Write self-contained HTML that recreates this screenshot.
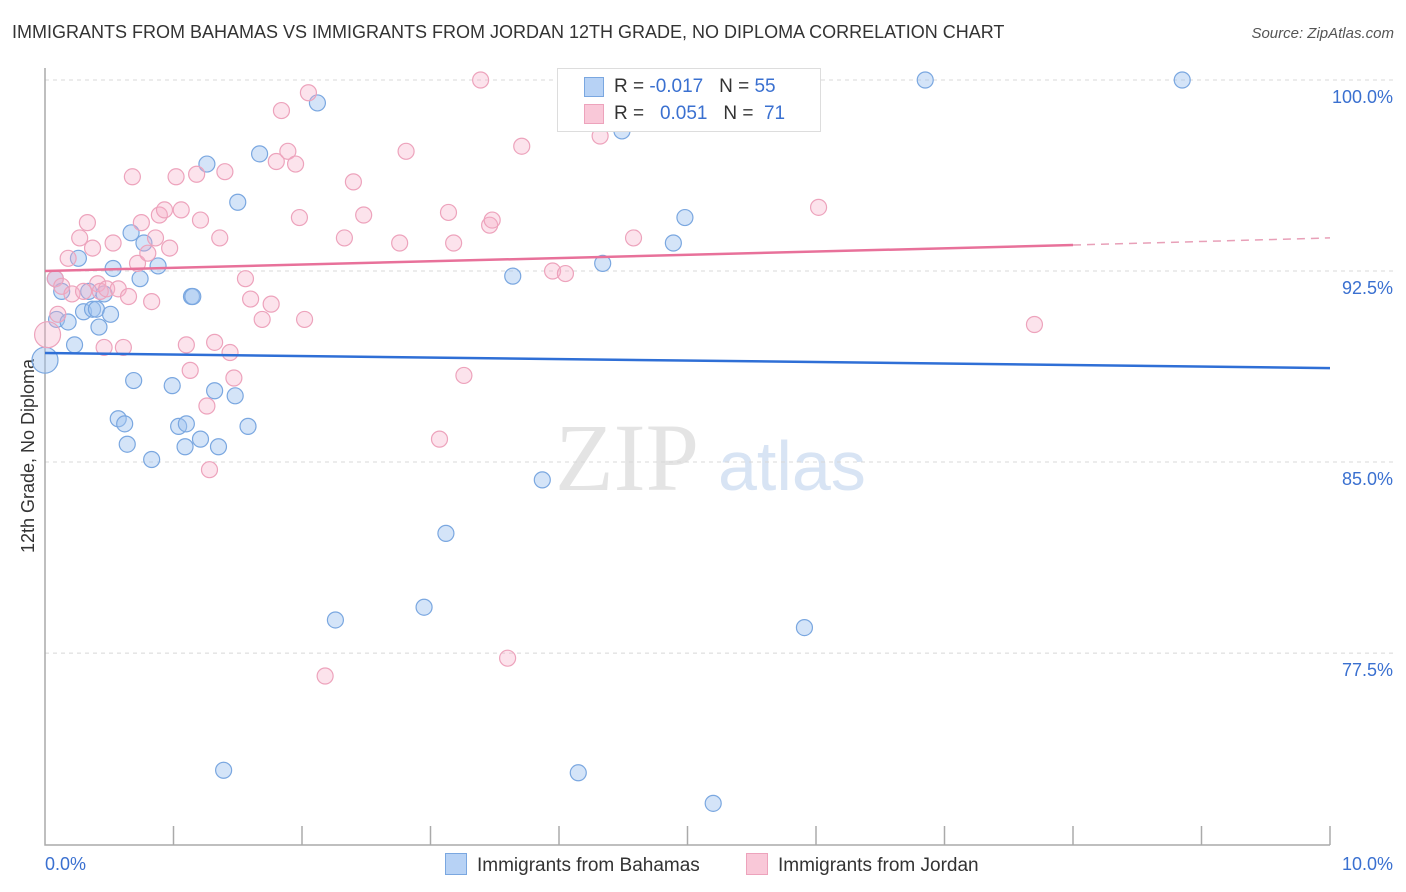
<!DOCTYPE html>
<html><head><meta charset="utf-8"><style>
body{margin:0;background:#fff;font-family:"Liberation Sans",sans-serif;}
#wrap{position:relative;width:1406px;height:892px;overflow:hidden;}
.t{position:absolute;white-space:nowrap;}
</style></head><body>
<div id="wrap">
<div class="t" style="left:12px;top:22px;font-size:18px;color:#333;">IMMIGRANTS FROM BAHAMAS VS IMMIGRANTS FROM JORDAN 12TH GRADE, NO DIPLOMA CORRELATION CHART</div>
<div class="t" style="right:12px;top:25px;font-size:15px;color:#555;font-style:italic;">Source: ZipAtlas.com</div>
<svg id="svg" width="1406" height="892" style="position:absolute;left:0;top:0"></svg>
</div>
<script>
const yTicks=[100,92.5,85,77.5];
const yTickLabels=["100.0%","92.5%","85.0%","77.5%"];
const xTickLabels=["0.0%","10.0%"];
const blueX=[0.0,0.08,0.09,0.13,0.18,0.23,0.26,0.3,0.34,0.37,0.4,0.42,0.46,0.51,0.53,0.57,0.62,0.64,0.67,0.69,0.74,0.77,0.83,0.88,0.99,1.04,1.09,1.1,1.14,1.15,1.21,1.26,1.32,1.35,1.39,1.48,1.5,1.58,1.67,2.12,2.26,2.95,3.12,3.64,3.87,4.15,4.34,4.49,4.89,4.98,5.2,5.91,6.85,8.85];
const blueY=[89.0,92.2,90.6,91.7,90.5,89.6,93.0,90.9,91.7,91.0,91.0,90.3,91.6,90.8,92.6,86.7,86.5,85.7,94.0,88.2,92.2,93.6,85.1,92.7,88.0,86.4,85.6,86.5,91.5,91.5,85.9,96.7,87.8,85.6,72.9,87.6,95.2,86.4,97.1,99.1,78.8,79.3,82.2,92.3,84.3,72.8,92.8,98.0,93.6,94.6,71.6,78.5,100.0,100.0];
const pinkX=[0.02,0.08,0.1,0.13,0.18,0.21,0.27,0.3,0.33,0.37,0.41,0.43,0.46,0.48,0.53,0.57,0.61,0.65,0.68,0.72,0.75,0.8,0.83,0.86,0.89,0.93,0.97,1.02,1.06,1.1,1.13,1.18,1.21,1.26,1.28,1.32,1.36,1.4,1.44,1.47,1.56,1.6,1.69,1.76,1.8,1.84,1.89,1.95,1.98,2.02,2.05,2.18,2.33,2.4,2.48,2.76,2.81,3.07,3.14,3.18,3.26,3.39,3.46,3.48,3.6,3.71,3.95,4.05,4.32,4.58,6.02,7.7];
const pinkY=[90.0,92.2,90.8,91.9,93.0,91.6,93.8,91.7,94.4,93.4,92.0,91.7,89.5,91.8,93.6,91.8,89.5,91.5,96.2,92.8,94.4,93.2,91.3,93.8,94.7,94.9,93.4,96.2,94.9,89.6,88.6,96.3,94.5,87.2,84.7,89.7,93.8,96.4,89.3,88.3,92.2,91.4,90.6,91.2,96.8,98.8,97.2,96.7,94.6,90.6,99.5,76.6,93.8,96.0,94.7,93.6,97.2,85.9,94.8,93.6,88.4,100.0,94.3,94.5,77.3,97.4,92.5,92.4,97.8,93.8,95.0,90.4];
const blueTrend=[89.28,88.69];
const pinkTrend=[92.5,93.52,93.8];
const NS="http://www.w3.org/2000/svg";
const svg=document.getElementById('svg');
const X=v=>45+v*128.5;
const Y=v=>80+(100-v)*25.47;
function mk(tag,attrs){const e=document.createElementNS(NS,tag);for(const k in attrs)e.setAttribute(k,attrs[k]);svg.appendChild(e);return e;}
// watermark
let wm=mk('text',{x:555,y:490,'font-size':96,fill:'#e4e4e4','font-family':'Liberation Serif'});wm.textContent='ZIP';


let wm2=mk('text',{x:718,y:490,'font-size':70,fill:'#d8e4f4','font-family':'Liberation Sans'});wm2.textContent='atlas';


yTicks.forEach((t,i)=>{
 const g=mk('line',{x1:45,x2:1393,y1:Y(t),y2:Y(t),stroke:'#d8d8d8','stroke-dasharray':'4,4'});
 
 
 const l=mk('text',{x:1393,y:Y(t)+23,'text-anchor':'end','font-size':18,fill:'#3a70d0'});l.textContent=yTickLabels[i];
 
 
});
const ax=mk('path',{d:'M45 68V845H1330',stroke:'#aaa',fill:'none','stroke-width':1.5});


for(let i=1;i<=10;i++){const tk=mk('line',{x1:X(i),x2:X(i),y1:826,y2:845,stroke:'#aaa','stroke-width':1.5});
 
 }
[[0,'start',45],[10,'end',1393]].forEach((a,i)=>{const l=mk('text',{x:a[2],y:870,'text-anchor':a[1],'font-size':18,fill:'#3a70d0'});l.textContent=xTickLabels[i];
 
 });
const yt=mk('text',{x:0,y:0,'font-size':18,fill:'#333','text-anchor':'middle',transform:'translate(34,456) rotate(-90)'});yt.textContent='12th Grade, No Diploma';


blueX.forEach((x,i)=>{const c=mk('circle',{cx:X(x),cy:Y(blueY[i]),r:i==0?13:8,fill:'rgba(160,195,240,0.45)',stroke:'#7aa7e0','stroke-width':1.2});
 
 });
pinkX.forEach((x,i)=>{const c=mk('circle',{cx:X(x),cy:Y(pinkY[i]),r:i==0?13:8,fill:'rgba(245,175,200,0.35)',stroke:'#eda3bc','stroke-width':1.2});
 
 });
const bl=mk('line',{x1:X(0),y1:Y(blueTrend[0]),x2:X(10),y2:Y(blueTrend[1]),stroke:'#2f6fd6','stroke-width':2.5});


const pl=mk('line',{x1:X(0),y1:Y(pinkTrend[0]),x2:X(8),y2:Y(pinkTrend[1]),stroke:'#e8719a','stroke-width':2.5});


const pd=mk('line',{x1:X(8),y1:Y(pinkTrend[1]),x2:X(10),y2:Y(pinkTrend[2]),stroke:'#e8a0b8','stroke-width':1.5,'stroke-dasharray':'8,6'});


</script>
<div class="t" style="left:557px;top:68px;width:262px;height:62px;border:1px solid #ddd;background:#fff;font-size:19px;color:#333;">
 <div style="position:absolute;left:26px;top:8px;width:18px;height:18px;background:#b7d2f5;border:1px solid #7aa7e0"></div>
 <div style="position:absolute;left:56px;top:7px">R = <span style="color:#3a70d0">-0.017</span>&nbsp;&nbsp;&nbsp;N = <span style="color:#3a70d0">55</span></div>
 <div style="position:absolute;left:26px;top:35px;width:18px;height:18px;background:#f9c8d8;border:1px solid #eda3bc"></div>
 <div style="position:absolute;left:56px;top:34px">R = &nbsp;&nbsp;<span style="color:#3a70d0">0.051</span>&nbsp;&nbsp;&nbsp;N = &nbsp;<span style="color:#3a70d0">71</span></div>
</div>
<div class="t" style="left:445px;top:853px;font-size:19px;color:#333;"><span style="display:inline-block;width:20px;height:20px;background:#b7d2f5;border:1px solid #7aa7e0;vertical-align:-4px;margin-right:10px"></span>Immigrants from Bahamas</div>
<div class="t" style="left:746px;top:853px;font-size:19px;color:#333;"><span style="display:inline-block;width:20px;height:20px;background:#f9c8d8;border:1px solid #eda3bc;vertical-align:-4px;margin-right:10px"></span>Immigrants from Jordan</div>
</body></html>
